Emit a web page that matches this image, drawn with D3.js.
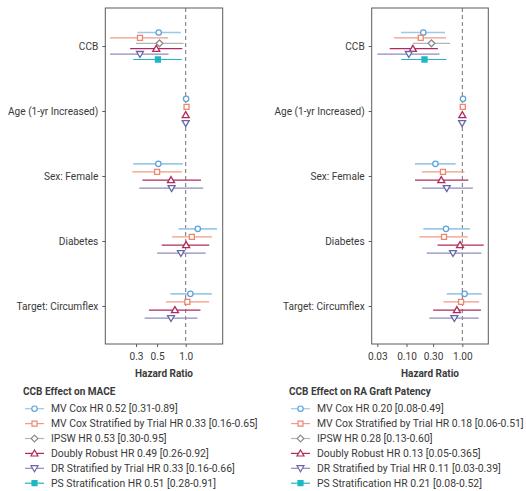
<!DOCTYPE html>
<html>
<head>
<meta charset="utf-8">
<script src="https://cdn.jsdelivr.net/npm/d3@7"></script>
<style>
  body { margin: 0; background: #fff; }
  svg text { font-family: Roboto, "Noto Sans", sans-serif; fill: #3a3a3a; }
  .axisTitle { font-weight: bold; }
</style>
</head>
<body>
<div class="chart"></div>
<script>
var svgWidth = 526;
var svgHeight = 491;

// covariates shown on the y axis
var categories = ["CCB", "Age (1-yr Increased)", "Sex: Female", "Diabetes", "Target: Circumflex"];
var methods = ["MV Cox", "MV Cox Stratified by Trial", "IPSW", "Doubly Robust", "DR Stratified by Trial", "PS Stratification"];

// MACE: [HR, lower, upper] per category, null when the method was not fitted
var maceMvCox      = [[0.52, 0.31, 0.89], [1.01, 1.00, 1.02], [0.515, 0.28, 0.93], [1.34, 0.84, 2.13], [1.12, 0.69, 1.88]];
var maceMvCoxStrat = [[0.33, 0.16, 0.65], [1.02, 1.00, 1.04], [0.50, 0.274, 0.91], [1.16, 0.72, 1.88], [1.04, 0.62, 1.76]];
var maceIpsw       = [[0.53, 0.30, 0.95], null, null, null, null];
var maceDr         = [[0.49, 0.26, 0.92], [1.00, 0.98, 1.02], [0.70, 0.35, 1.45], [1.01, 0.56, 1.77], [0.77, 0.41, 1.43]];
var maceDrStrat    = [[0.33, 0.16, 0.66], [1.00, 0.98, 1.02], [0.71, 0.325, 1.53], [0.89, 0.50, 1.62], [0.70, 0.37, 1.33]];
var macePs         = [[0.51, 0.28, 0.91], null, null, null, null];

// RA graft patency
var raMvCox      = [[0.20, 0.08, 0.49], [1.03, 1.01, 1.05], [0.33, 0.142, 0.76], [0.51, 0.20, 1.37], [1.10, 0.525, 2.23]];
var raMvCoxStrat = [[0.18, 0.06, 0.51], [1.02, 1.00, 1.04], [0.45, 0.19, 1.09], [0.47, 0.17, 1.25], [0.95, 0.46, 2.00]];
var raIpsw       = [[0.28, 0.13, 0.60], null, null, null, null];
var raDr         = [[0.13, 0.05, 0.365], [1.00, 0.98, 1.02], [0.42, 0.142, 1.28], [0.91, 0.36, 2.42], [0.80, 0.30, 2.16]];
var raDrStrat    = [[0.11, 0.03, 0.39], [0.99, 0.97, 1.01], [0.525, 0.19, 1.54], [0.68, 0.23, 2.19], [0.72, 0.256, 1.97]];
var raPs         = [[0.21, 0.08, 0.52], null, null, null, null];

var maceTicks = [0.3, 0.5, 1.0];
var maceTickLabels = ["0.3", "0.5", "1.0"];
var raTicks = [0.03, 0.1, 0.3, 1.0];
var raTickLabels = ["0.03", "0.10", "0.30", "1.00"];

var maceLegend = ["MV Cox HR 0.52 [0.31-0.89]", "MV Cox Stratified by Trial HR 0.33 [0.16-0.65]", "IPSW HR 0.53 [0.30-0.95]",
  "Doubly Robust HR 0.49 [0.26-0.92]", "DR Stratified by Trial HR 0.33 [0.16-0.66]", "PS Stratification HR 0.51 [0.28-0.91]"];
var raLegend = ["MV Cox HR 0.20 [0.08-0.49]", "MV Cox Stratified by Trial HR 0.18 [0.06-0.51]", "IPSW HR 0.28 [0.13-0.60]",
  "Doubly Robust HR 0.13 [0.05-0.365]", "DR Stratified by Trial HR 0.11 [0.03-0.39]", "PS Stratification HR 0.21 [0.08-0.52]"];

var markColors = ["#5fa3d9", "#f0846c", "#8c8c8c", "#b02a5c", "#6966a6", "#1fb6c6"];
var lineColors = ["#9cc8ea", "#f29a86", "#b5b5b5", "#b02a5c", "#8d8bbd", "#1fb6c6"];
var shapes = ["circle", "square", "diamond", "triangle", "down", "filled"];

var svg = d3.select(".chart")
  .append("svg")
  .attr("width", svgWidth)
  .attr("height", svgHeight);

function symbolPath(shape) {
  if (shape === "circle") return "M2.7,0A2.7,2.7 0 1,1 -2.7,0A2.7,2.7 0 1,1 2.7,0Z";
  if (shape === "square" || shape === "filled") return "M-2.5,-2.5H2.5V2.5H-2.5Z";
  if (shape === "diamond") return "M0,-3.4L3.4,0L0,3.4L-3.4,0Z";
  if (shape === "triangle") return "M0,-3.4L3.5,2.6L-3.5,2.6Z";
  return "M0,3.4L3.5,-2.6L-3.5,-2.6Z";
}

function drawPanel(series, opt) {
  var x = d3.scaleLog().domain(opt.domain).range([opt.left, opt.right]);
  var y = d3.scalePoint().domain(categories).range([8, 344]).padding(0.585);
  var dodge = 32.4;

  var g = svg.append("g");

  // dashed reference at HR = 1
  g.append("line")
    .attr("x1", x(1)).attr("x2", x(1))
    .attr("y1", 8).attr("y2", 344)
    .attr("stroke", "#707070")
    .attr("stroke-width", 1)
    .attr("stroke-dasharray", "4,3");

  categories.forEach(function(cat, ci) {
    var present = [];
    series.forEach(function(s, mi) { if (s[ci]) present.push(mi); });
    var n = present.length;
    present.forEach(function(mi, k) {
      var d = series[mi][ci];
      var yy = y(cat) + (k - (n - 1) / 2) * dodge / n;
      g.append("line")
        .attr("x1", x(d[1])).attr("x2", x(d[2]))
        .attr("y1", yy).attr("y2", yy)
        .attr("stroke", lineColors[mi])
        .attr("stroke-width", mi === 0 ? 1.6 : 1.2);
      g.append("path")
        .attr("d", symbolPath(shapes[mi]))
        .attr("transform", "translate(" + x(d[0]) + "," + yy + ")")
        .attr("fill", shapes[mi] === "filled" ? markColors[mi] : "#fff")
        .attr("stroke", markColors[mi])
        .attr("stroke-width", 1.3);
    });
  });

  // frame
  g.append("rect")
    .attr("x", opt.left).attr("y", 8)
    .attr("width", opt.right - opt.left).attr("height", 336)
    .attr("fill", "none")
    .attr("stroke", "#5a5a5a")
    .attr("stroke-width", 1);

  // y axis
  var leftAxis = d3.axisLeft(y).tickSize(3).tickPadding(4);
  var ya = g.append("g")
    .attr("transform", "translate(" + opt.left + ",0)")
    .call(leftAxis);
  ya.select(".domain").remove();
  ya.selectAll("line").attr("stroke", "#5a5a5a");
  ya.selectAll("text").style("font-size", "10.1px").attr("fill", "#3a3a3a");

  // x axis
  var bottomAxis = d3.axisBottom(x).tickValues(opt.ticks)
    .tickFormat(function(d, i) { return opt.tickLabels[i]; })
    .tickSize(3).tickPadding(6);
  var xa = g.append("g")
    .attr("transform", "translate(0,344)")
    .call(bottomAxis);
  xa.select(".domain").remove();
  xa.selectAll("line").attr("stroke", "#5a5a5a");
  xa.selectAll("text").style("font-size", "10.1px").attr("fill", "#3a3a3a");

  g.append("text")
    .attr("class", "axisTitle")
    .attr("x", (opt.left + opt.right) / 2)
    .attr("y", 376.8)
    .attr("text-anchor", "middle")
    .style("font-size", "10px")
    .text("Hazard Ratio");

  // legend
  var lg = g.append("g").attr("transform", "translate(" + opt.legendX + ",0)");
  lg.append("text")
    .attr("class", "axisTitle")
    .attr("x", 0).attr("y", 395.4)
    .style("font-size", "10px")
    .text(opt.title);
  opt.legend.forEach(function(label, i) {
    var yy = 408.7 + i * 14.9;
    lg.append("line")
      .attr("x1", 2).attr("x2", 21)
      .attr("y1", yy).attr("y2", yy)
      .attr("stroke", lineColors[i])
      .attr("stroke-width", 1.2);
    lg.append("path")
      .attr("d", symbolPath(shapes[i]))
      .attr("transform", "translate(11.5," + yy + ")")
      .attr("fill", shapes[i] === "filled" ? markColors[i] : "#fff")
      .attr("stroke", markColors[i])
      .attr("stroke-width", 1.2);
    lg.append("text")
      .attr("x", 28).attr("y", yy + 3.7)
      .style("font-size", "10.4px")
      .text(label);
  });
}

drawPanel([maceMvCox, maceMvCoxStrat, maceIpsw, maceDr, maceDrStrat, macePs], {
  left: 105.3, right: 222.7, domain: [0.1425, 2.45],
  ticks: maceTicks, tickLabels: maceTickLabels,
  title: "CCB Effect on MACE", legend: maceLegend, legendX: 23
});

drawPanel([raMvCox, raMvCoxStrat, raIpsw, raDr, raDrStrat, raPs], {
  left: 371.7, right: 488.3, domain: [0.0238, 2.92],
  ticks: raTicks, tickLabels: raTickLabels,
  title: "CCB Effect on RA Graft Patency", legend: raLegend, legendX: 289
});
</script>
</body>
</html>
